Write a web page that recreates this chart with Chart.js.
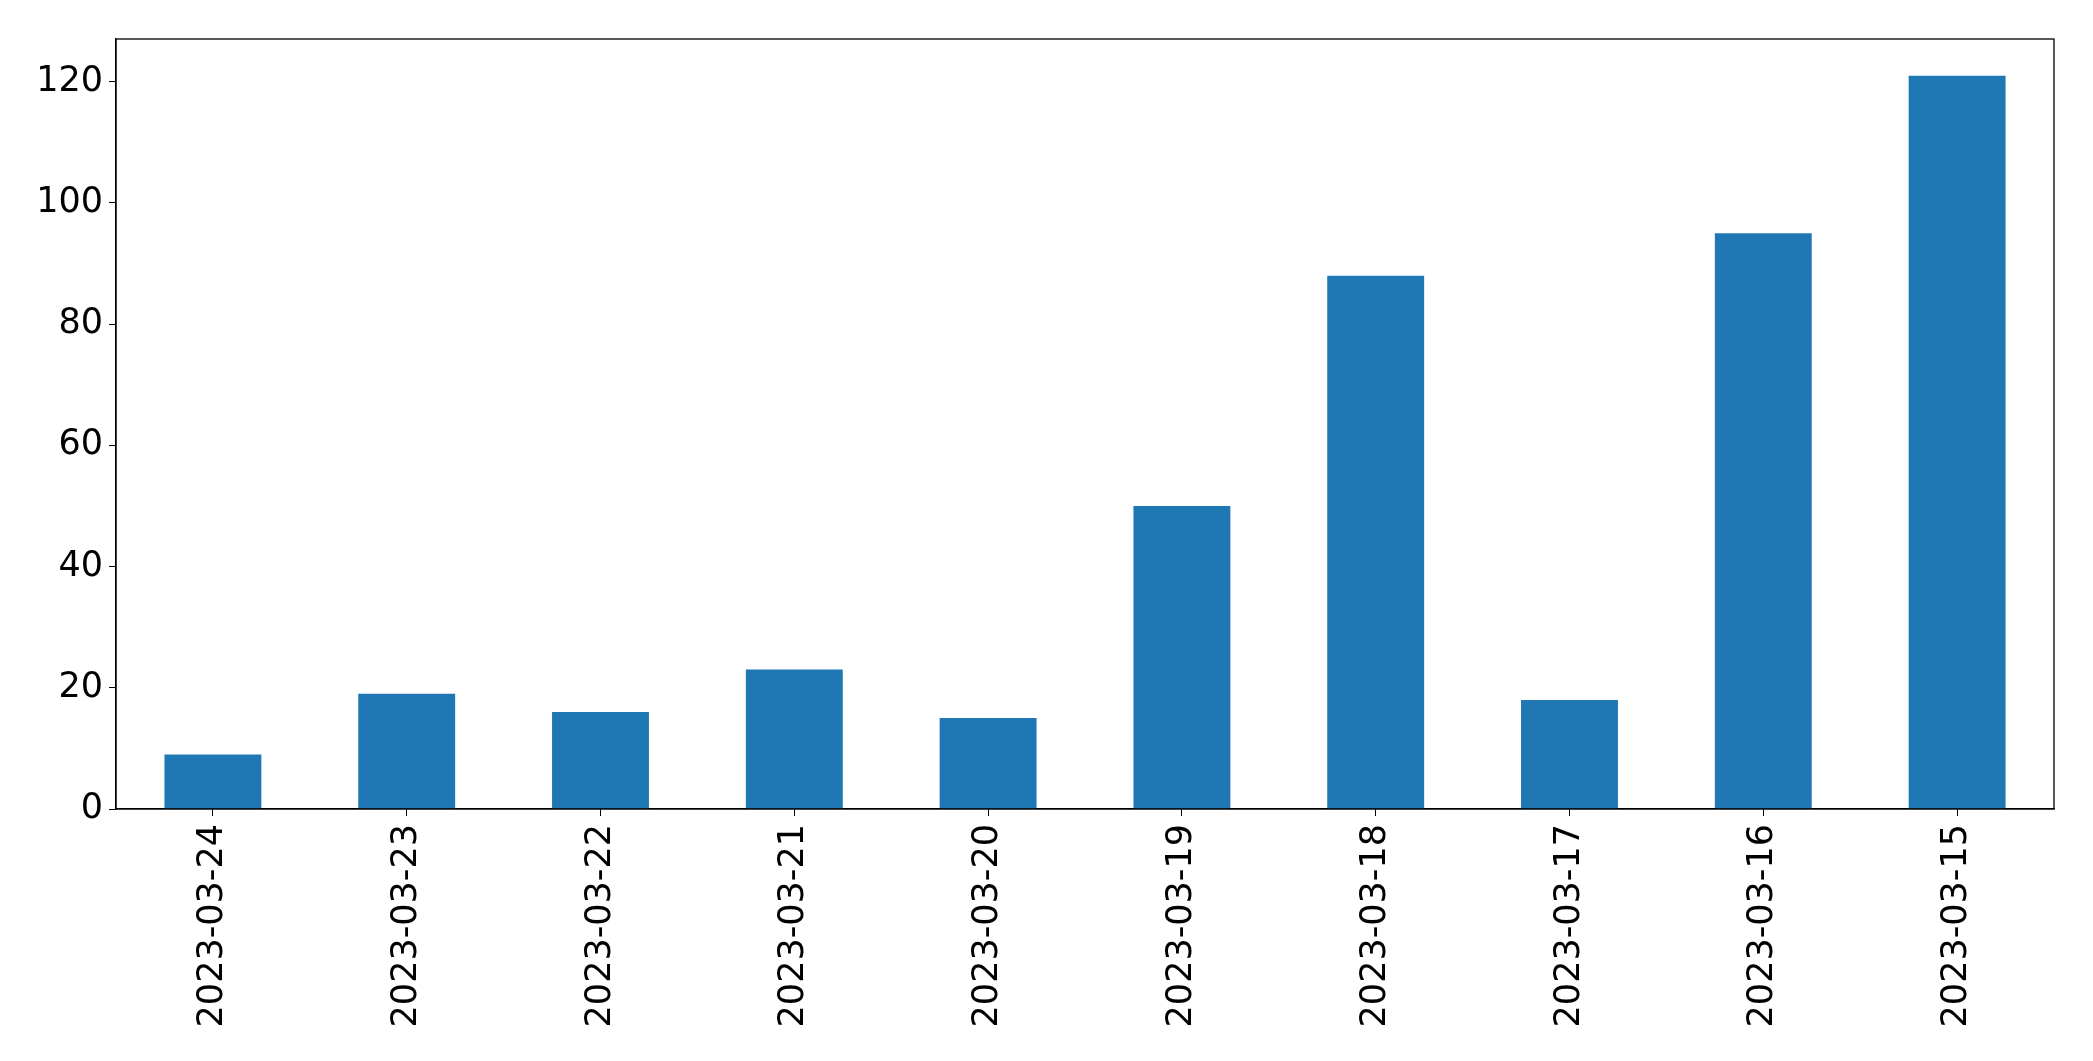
<!DOCTYPE html>
<html>
<head>
<meta charset="utf-8">
<script src="https://cdn.jsdelivr.net/npm/chart.js@4.4.0/dist/chart.umd.min.js"></script>
<style>
  html, body { margin: 0; padding: 0; background: #fff; }
  #wrap { width: 2093px; height: 1061px; }
</style>
</head>
<body>
<div id="wrap"><canvas id="barChart" width="2093" height="1061"></canvas></div>
<script>
// Fechas (eje x) y valores de cada barra
const dates = ['2023-03-24', '2023-03-23', '2023-03-22', '2023-03-21', '2023-03-20',
               '2023-03-19', '2023-03-18', '2023-03-17', '2023-03-16', '2023-03-15'];
const counts = [9, 19, 16, 23, 15, 50, 88, 18, 95, 121];
const yTicks = [0, 20, 40, 60, 80, 100, 120];

// Marco completo alrededor del área del gráfico (como matplotlib)
const frame = {
    id: 'frame',
    afterDraw(chart) {
        const a = chart.chartArea;
        const c = chart.ctx;
        c.save();
        c.strokeStyle = '#000';
        c.lineWidth = 1.3;
        c.strokeRect(a.left, a.top, a.right - a.left, a.bottom - a.top);
        c.restore();
    }
};

const ctx = document.getElementById('barChart').getContext('2d');
new Chart(ctx, {
    type: 'bar',
    data: {
        labels: dates,
        datasets: [{
            data: counts,
            backgroundColor: '#1f77b4',
            barPercentage: 0.5,
            categoryPercentage: 1.0
        }]
    },
    options: {
        responsive: false,
        animation: false,
        layout: { padding: { left: 0, right: 39, top: 39, bottom: 0 } },
        plugins: {
            legend: { display: false },
            tooltip: { enabled: false }
        },
        scales: {
            x: {
                offset: true,
                grid: { display: true, offset: false, drawOnChartArea: false, tickLength: 7, tickColor: '#000' },
                border: { display: true, color: '#000', width: 1.3 },
                ticks: {
                    color: '#000',
                    font: { family: 'DejaVu Sans', size: 35 },
                    minRotation: 90,
                    maxRotation: 90,
                    padding: 8,
                    autoSkip: false
                },
                afterFit(scale) { scale.height = 252; }
            },
            y: {
                min: 0,
                max: 127.05,
                afterBuildTicks(scale) {
                    scale.ticks = yTicks.map(v => ({ value: v }));
                },
                grid: { display: true, drawOnChartArea: false, tickLength: 7, tickColor: '#000' },
                border: { display: true, color: '#000', width: 1.3 },
                ticks: {
                    color: '#000',
                    font: { family: 'DejaVu Sans', size: 35 },
                    padding: 6
                },
                afterFit(scale) { scale.width = 116; }
            }
        }
    },
    plugins: [frame]
});
</script>
</body>
</html>
